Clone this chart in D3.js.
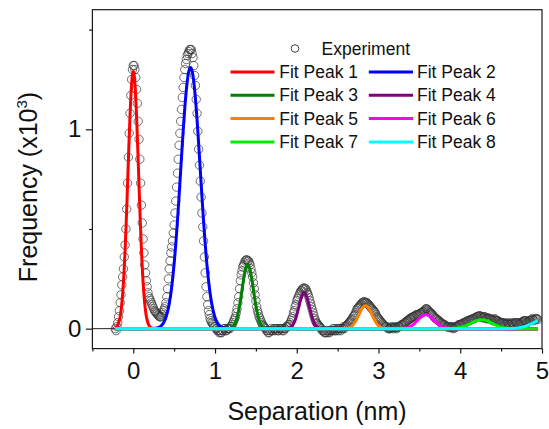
<!DOCTYPE html>
<html>
<head>
<meta charset="utf-8">
<script src="https://cdn.jsdelivr.net/npm/d3@7"></script>
<style>
  html, body { margin: 0; padding: 0; background: #fff; }
  svg { display: block; font-family: "Liberation Sans", Arial, sans-serif; }
</style>
</head>
<body>
<svg id="chart" width="549" height="429"></svg>
<script>
// Histogram of separations: bins start at binStart, each binWidth wide (nm)
const binStart = -0.22;
const binWidth = 0.01;
// Counts per bin (x10^3), from -0.22 nm to 4.95 nm
const expCounts = [
  // -0.22 .. 0.40
  0.00, -0.01, 0.01, 0.03, 0.06, 0.09, 0.13, 0.17, 0.22, 0.26, 0.30, 0.36, 0.42, 0.50, 0.60, 0.73,
  0.86, 0.98, 1.08, 1.17, 1.25, 1.30, 1.32, 1.32, 1.30, 1.26, 1.20, 1.13, 1.04, 0.95, 0.85, 0.73,
  0.62, 0.53, 0.45, 0.38, 0.32, 0.28, 0.24, 0.21, 0.18, 0.16, 0.15, 0.14, 0.13, 0.12, 0.11, 0.10,
  0.09, 0.085, 0.08, 0.075, 0.07, 0.065, 0.06, 0.06, 0.06, 0.07, 0.08, 0.09, 0.10, 0.11, 0.13,
  // 0.41 .. 1.20
  0.16, 0.20, 0.25, 0.30, 0.34, 0.38, 0.41, 0.44, 0.48, 0.52, 0.58, 0.64, 0.71, 0.78, 0.85, 0.92,
  0.98, 1.04, 1.10, 1.16, 1.21, 1.26, 1.30, 1.33, 1.35, 1.37, 1.38, 1.39, 1.40, 1.40, 1.40, 1.38,
  1.36, 1.32, 1.27, 1.22, 1.15, 1.08, 0.99, 0.90, 0.82, 0.74, 0.66, 0.58, 0.51, 0.44, 0.36, 0.28,
  0.21, 0.16, 0.12, 0.09, 0.07, 0.05, 0.04, 0.03, 0.025, 0.02, 0.01, 0.01, 0.00, 0.00, -0.01, -0.01,
  -0.02, -0.01, -0.02, -0.02, -0.01, -0.01, 0.00, 0.00, -0.01, -0.01, 0.00, 0.00, 0.00, 0.00, 0.01, 0.01,
  // 1.21 .. 1.90
  0.02, 0.03, 0.04, 0.05, 0.06, 0.08, 0.10, 0.13, 0.16, 0.20, 0.24, 0.27, 0.29, 0.31, 0.32, 0.33,
  0.34, 0.345, 0.345, 0.34, 0.34, 0.33, 0.32, 0.30, 0.28, 0.26, 0.23, 0.20, 0.17, 0.14, 0.11, 0.09,
  0.075, 0.06, 0.05, 0.04, 0.03, 0.02, 0.015, 0.01, 0.005, 0.00, -0.01, -0.01, -0.02, -0.02, -0.01, -0.01,
  0.00, -0.01, -0.01, 0.00, 0.00, -0.01, 0.00, 0.00, -0.01, -0.01, 0.00, 0.00, 0.00, -0.01, 0.00, -0.01,
  0.00, 0.00, 0.01, 0.01, 0.01, 0.02,
  // 1.91 .. 2.60
  0.02, 0.03, 0.04, 0.05, 0.06, 0.08, 0.09, 0.11, 0.12, 0.14, 0.15, 0.16, 0.17, 0.18, 0.19, 0.19,
  0.20, 0.20, 0.205, 0.20, 0.20, 0.19, 0.18, 0.17, 0.155, 0.14, 0.125, 0.11, 0.095, 0.08, 0.065, 0.05,
  0.04, 0.03, 0.025, 0.02, 0.015, 0.01, 0.005, 0.00, -0.01, -0.01, -0.01, -0.02, -0.02, -0.02, -0.01, -0.02,
  -0.01, -0.02, -0.01, -0.01, -0.01, 0.00, -0.01, 0.00, -0.01, -0.01, 0.00, 0.00, -0.01, 0.00, 0.00, -0.01,
  0.00, 0.00, 0.01, 0.00, 0.01, 0.01,
  // 2.61 .. 3.30
  0.015, 0.02, 0.025, 0.03, 0.035, 0.04, 0.045, 0.05, 0.06, 0.065, 0.07, 0.08, 0.09, 0.10, 0.105, 0.11,
  0.115, 0.12, 0.125, 0.13, 0.13, 0.135, 0.135, 0.13, 0.13, 0.13, 0.125, 0.12, 0.115, 0.11, 0.105, 0.10,
  0.095, 0.09, 0.085, 0.08, 0.07, 0.06, 0.055, 0.05, 0.045, 0.04, 0.035, 0.03, 0.025, 0.02, 0.015, 0.01,
  0.01, 0.01, 0.005, 0.00, 0.00, 0.00, 0.005, 0.01, 0.005, 0.00, 0.005, 0.01, 0.005, 0.00, 0.005, 0.01,
  0.01, 0.01, 0.015, 0.02, 0.02, 0.02,
  // 3.31 .. 4.00
  0.025, 0.03, 0.03, 0.035, 0.04, 0.04, 0.045, 0.05, 0.05, 0.055, 0.055, 0.06, 0.06, 0.06, 0.065, 0.07,
  0.07, 0.07, 0.07, 0.075, 0.075, 0.08, 0.08, 0.085, 0.085, 0.09, 0.095, 0.10, 0.10, 0.095, 0.09, 0.085,
  0.08, 0.08, 0.075, 0.07, 0.065, 0.06, 0.055, 0.05, 0.05, 0.045, 0.04, 0.04, 0.035, 0.03, 0.03, 0.025,
  0.02, 0.02, 0.02, 0.015, 0.01, 0.01, 0.01, 0.01, 0.005, 0.01, 0.005, 0.01, 0.005, 0.00, 0.005, 0.01,
  0.01, 0.01, 0.015, 0.02, 0.02, 0.02,
  // 4.01 .. 4.95
  0.02, 0.025, 0.025, 0.03, 0.03, 0.03, 0.035, 0.035, 0.04, 0.04, 0.04, 0.045, 0.045, 0.045, 0.05, 0.05,
  0.05, 0.055, 0.055, 0.06, 0.06, 0.06, 0.065, 0.065, 0.06, 0.06, 0.055, 0.055, 0.06, 0.06, 0.055, 0.05,
  0.05, 0.055, 0.05, 0.05, 0.05, 0.045, 0.045, 0.04, 0.045, 0.05, 0.045, 0.04, 0.04, 0.04, 0.035, 0.035,
  0.03, 0.03, 0.03, 0.03, 0.03, 0.025, 0.025, 0.02, 0.025, 0.03, 0.025, 0.02, 0.02, 0.025, 0.03, 0.025,
  0.02, 0.025, 0.03, 0.03, 0.03, 0.025, 0.03, 0.02, 0.025, 0.03, 0.03, 0.035, 0.035, 0.04, 0.04, 0.04,
  0.035, 0.03, 0.035, 0.04, 0.04, 0.04, 0.045, 0.05, 0.045, 0.04, 0.045, 0.05, 0.05, 0.05, 0.045
];

// Gaussian fit parameters for the eight peaks
const peakNames   = ["Fit Peak 1", "Fit Peak 2", "Fit Peak 3", "Fit Peak 4",
                     "Fit Peak 5", "Fit Peak 6", "Fit Peak 7", "Fit Peak 8"];
const peakCenters = [0.00, 0.70, 1.40, 2.09, 2.84, 3.58, 4.26, 5.05];
const peakHeights = [1.29, 1.31, 0.32, 0.18, 0.115, 0.07, 0.045, 0.05];
const peakSigmas  = [0.065, 0.12, 0.07, 0.065, 0.08, 0.10, 0.13, 0.15];
const peakColors  = ["#ff0000", "#0000ff", "#008000", "#800080",
                     "#ff8000", "#ff00ff", "#00ee00", "#00ffff"];
const fitRange = [-0.22, 4.95];

// Axis ticks
const xMajorTicks = [0, 1, 2, 3, 4, 5];
const xMinorTicks = [-0.5, 0.5, 1.5, 2.5, 3.5, 4.5];
const yMajorTicks = [0, 1];
const yMinorTicks = [0.5, 1.5];

const svg = d3.select("#chart");
const x = d3.scaleLinear().domain([-0.5, 5]).range([92.4, 542]);
const y = d3.scaleLinear().domain([-0.1, 1.6]).range([348.6, 9.7]);

const expData = expCounts.map((v, i) => ({ x: binStart + i * binWidth, y: v }));

svg.append("defs").append("clipPath").attr("id", "plotClip")
  .append("rect")
  .attr("x", x.range()[0]).attr("y", y.range()[1])
  .attr("width", x.range()[1] - x.range()[0])
  .attr("height", y.range()[0] - y.range()[1]);

const plot = svg.append("g").attr("clip-path", "url(#plotClip)");

// Short zero line leading into the first bin
plot.append("line")
  .attr("x1", x(-0.5)).attr("x2", x(binStart))
  .attr("y1", y(0)).attr("y2", y(0))
  .attr("stroke", "#222").attr("stroke-width", 1);

// Experimental points
plot.append("g").selectAll("circle")
  .data(expData).join("circle")
  .attr("cx", d => x(d.x)).attr("cy", d => y(d.y)).attr("r", 4.2)
  .attr("fill", "none").attr("stroke", "#333").attr("stroke-width", 0.7);

// Fitted Gaussian components
const fitStep = 0.005;
const fitXs = d3.range(fitRange[0], fitRange[1] + fitStep / 2, fitStep);
const line = d3.line().x(d => x(d[0])).y(d => y(d[1]));
peakCenters.forEach((c, k) => {
  const pts = fitXs.map(t => [t, peakHeights[k] * Math.exp(-((t - c) ** 2) / (2 * peakSigmas[k] ** 2))]);
  plot.append("path").datum(pts)
    .attr("d", line).attr("fill", "none")
    .attr("stroke", peakColors[k]).attr("stroke-width", 3)
    .attr("stroke-linejoin", "round");
});

// Frame
svg.append("rect")
  .attr("x", x.range()[0]).attr("y", y.range()[1])
  .attr("width", x.range()[1] - x.range()[0])
  .attr("height", y.range()[0] - y.range()[1])
  .attr("fill", "none").attr("stroke", "#1a1a1a").attr("stroke-width", 1.2);

// Axes
const fontSize = 24;
svg.append("g").attr("transform", `translate(0,${y.range()[0]})`)
  .call(d3.axisBottom(x).tickValues(xMajorTicks).tickSize(5).tickPadding(8.5)
    .tickFormat(d3.format("d")));
svg.append("g").attr("transform", `translate(0,${y.range()[0]})`)
  .call(d3.axisBottom(x).tickValues(xMinorTicks).tickSize(3).tickFormat(""));
svg.append("g").attr("transform", `translate(${x.range()[0]},0)`)
  .call(d3.axisLeft(y).tickValues(yMajorTicks).tickSize(6.5).tickPadding(4.5)
    .tickFormat(d3.format("d")));
svg.append("g").attr("transform", `translate(${x.range()[0]},0)`)
  .call(d3.axisLeft(y).tickValues(yMinorTicks).tickSize(3.3).tickFormat(""));

svg.selectAll(".domain").remove();
svg.selectAll(".tick line").attr("stroke", "#1a1a1a").attr("stroke-width", 1.2);
svg.selectAll(".tick text")
  .attr("font-family", "Liberation Sans, Arial, sans-serif")
  .attr("font-size", fontSize).attr("fill", "#111");

// Axis titles
svg.append("text")
  .attr("x", 317).attr("y", 420)
  .attr("text-anchor", "middle").attr("font-size", 25).attr("fill", "#111")
  .text("Separation (nm)");

const yTitle = svg.append("text")
  .attr("transform", "translate(36.5,187) rotate(-90)")
  .attr("text-anchor", "middle").attr("font-size", 25).attr("fill", "#111");
yTitle.append("tspan").text("Frequency (x10");
yTitle.append("tspan").attr("font-size", 15).attr("dy", -10).text("3");
yTitle.append("tspan").attr("dy", 10).text(")");

// Legend
const legend = svg.append("g").attr("font-size", 17.5).attr("fill", "#111");
legend.append("circle").attr("cx", 295).attr("cy", 48.5).attr("r", 3.8)
  .attr("fill", "none").attr("stroke", "#2a2a2a").attr("stroke-width", 0.9);
legend.append("text").attr("x", 321.5).attr("y", 48.5).attr("dy", "0.35em")
  .text("Experiment");

const rowY0 = 72, rowGap = 23.3;
const cols = [{ lx1: 230.5, lx2: 274.5, tx: 279.2 }, { lx1: 368.8, lx2: 413, tx: 417 }];
peakNames.forEach((name, k) => {
  const col = cols[k % 2];
  const ry = rowY0 + Math.floor(k / 2) * rowGap;
  legend.append("line").attr("x1", col.lx1).attr("x2", col.lx2)
    .attr("y1", ry).attr("y2", ry)
    .attr("stroke", peakColors[k]).attr("stroke-width", 3);
  legend.append("text").attr("x", col.tx).attr("y", ry).attr("dy", "0.35em").text(name);
});
</script>
</body>
</html>
